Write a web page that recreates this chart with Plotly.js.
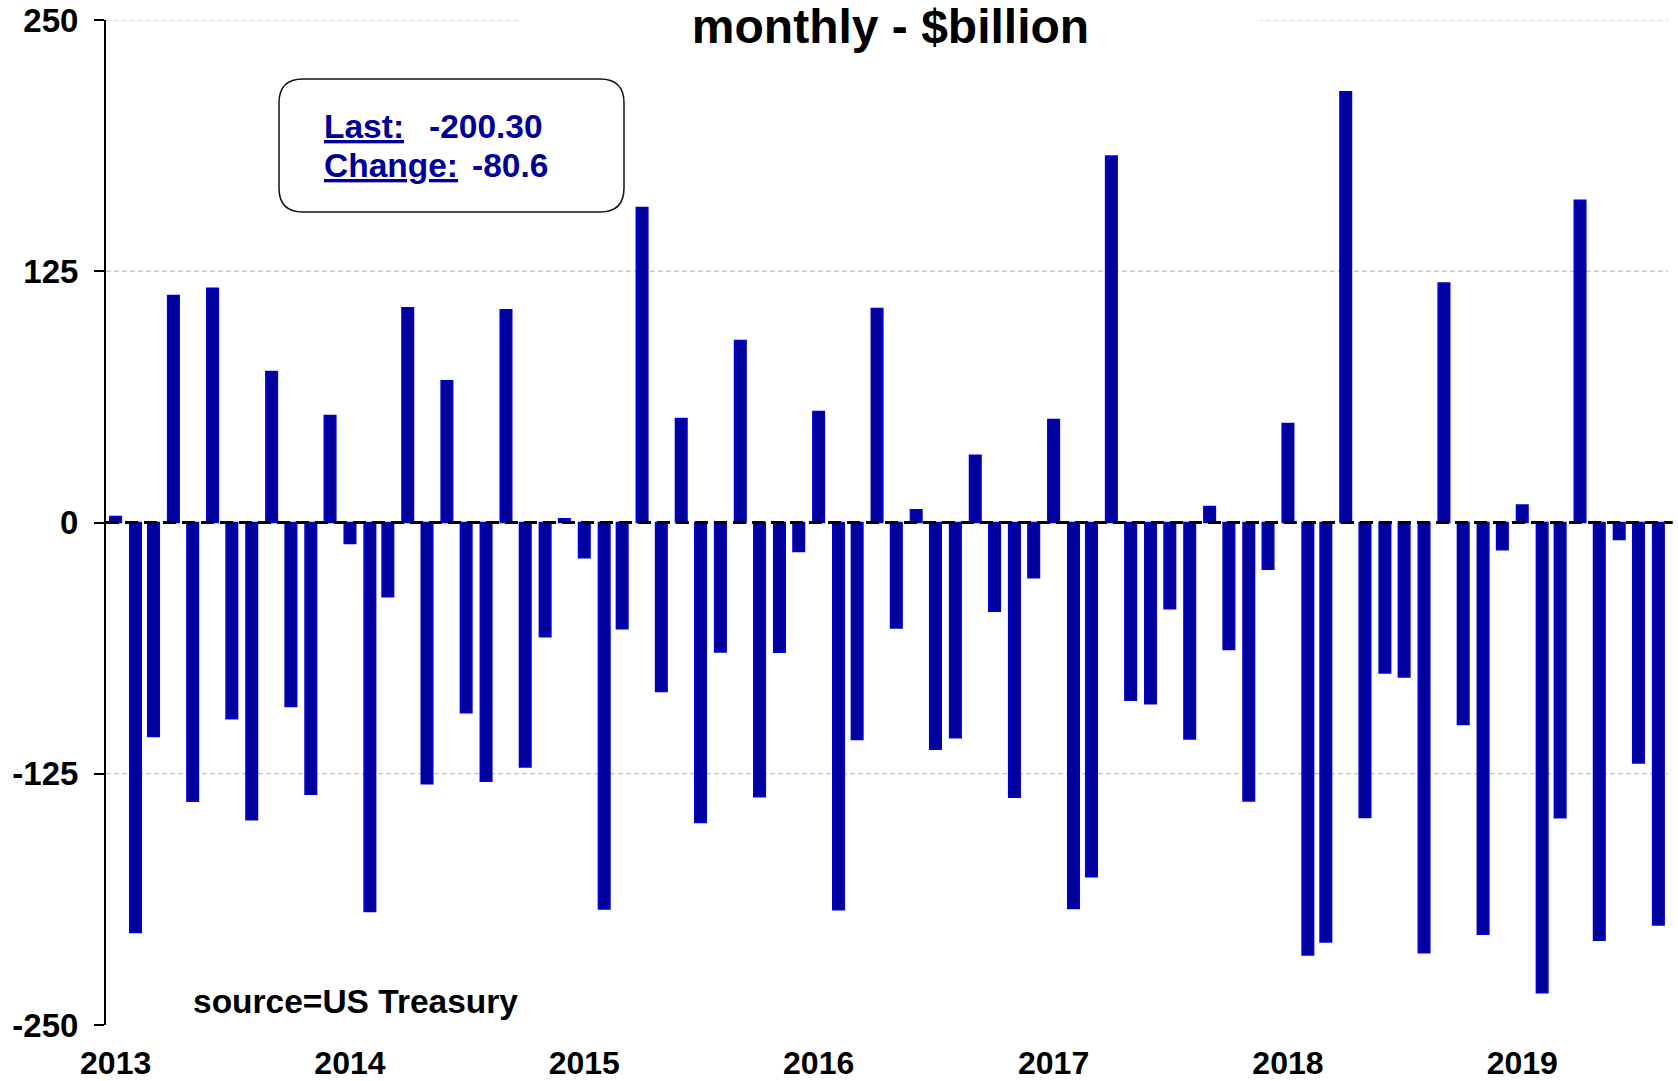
<!DOCTYPE html>
<html>
<head>
<meta charset="utf-8">
<script src="https://cdn.plot.ly/plotly-3.0.1.min.js"></script>
<style>
  html, body { margin: 0; padding: 0; background: #fff; }
  #chart { width: 1678px; height: 1081px; }
</style>
</head>
<body>
<div id="chart"></div>
<script>
// ---- data (US Treasury monthly budget balance, $billion) ----
const startYear = 2013;
const balance = [
  3.0, -204.0, -106.5, 112.9, -138.7, 116.5, -97.6, -147.9, 75.1, -91.6, -135.2, 53.2,
  -10.4, -193.5, -36.9, 106.9, -130.0, 70.5, -94.6, -128.7, 105.8, -121.7, -56.8, 1.9,
  -17.5, -192.3, -52.9, 156.7, -84.1, 51.8, -149.2, -64.4, 90.5, -136.5, -64.6, -14.4,
  55.2, -192.6, -108.0, 106.5, -52.5, 6.3, -112.8, -107.1, 33.4, -44.2, -136.7, -27.5,
  51.3, -192.0, -176.2, 182.4, -88.4, -90.2, -42.9, -107.7, 7.9, -63.2, -138.5, -23.2,
  49.2, -215.2, -208.7, 214.3, -146.8, -74.9, -76.9, -214.1, 119.1, -100.5, -204.9, -13.5,
  8.7, -234.0, -146.9, 160.3, -207.8, -8.5, -119.7, -200.3
];
const yearLabels = ['2013', '2014', '2015', '2016', '2017', '2018', '2019'];
const yTicks = [-250, -125, 0, 125, 250];
const gridVals = [250, 125, -125];
const lastValue = '-200.30';
const changeValue = '-80.6';

// month dates (mid-month) for each bar
const months = balance.map((_, i) => {
  const y = startYear + Math.floor(i / 12);
  const m = (i % 12) + 1;
  return y + '-' + String(m).padStart(2, '0') + '-16';
});
const yearTickVals = yearLabels.map(y => y + '-01-16');

// ---- layout geometry (pixels) ----
const W = 1678, H = 1081;
const M = { l: 106, r: 10, t: 20, b: 56 };
const PW = W - M.l - M.r, PH = H - M.t - M.b;
const px = x => (x - M.l) / PW;
const py = y => (H - M.b - y) / PH;

const FONT = 'Liberation Sans, Arial, sans-serif';
const NAVY = '#000099';

// rounded rectangle for the info box
function roundedRect(x0, y0, x1, y1, r) {
  const X0 = px(x0), X1 = px(x1), Y0 = py(y0), Y1 = py(y1);
  const rx = r / PW, ry = r / PH;
  return `M ${X0 + rx},${Y0} L ${X1 - rx},${Y0} Q ${X1},${Y0} ${X1},${Y0 - ry} ` +
         `L ${X1},${Y1 + ry} Q ${X1},${Y1} ${X1 - rx},${Y1} ` +
         `L ${X0 + rx},${Y1} Q ${X0},${Y1} ${X0},${Y1 + ry} ` +
         `L ${X0},${Y0 - ry} Q ${X0},${Y0} ${X0 + rx},${Y0} Z`;
}

const shapes = gridVals.map(v => ({
  type: 'line', xref: 'paper', yref: 'y', x0: 0, x1: 1, y0: v, y1: v,
  line: { color: '#b4b4b4', width: 1.2, dash: '5px,3px' }, layer: 'below'
}));
shapes.push({
  type: 'line', xref: 'paper', yref: 'y', x0: 0, x1: 1.003, y0: 0, y1: 0,
  line: { color: '#000', width: 3, dash: '13px,6px' }, layer: 'above'
});
shapes.push({
  type: 'path', xref: 'paper', yref: 'paper',
  path: roundedRect(279, 79, 624, 212, 24),
  line: { color: '#111', width: 1.5 }, fillcolor: 'rgba(0,0,0,0)', layer: 'above'
});

const trace = {
  type: 'bar',
  x: months,
  y: balance,
  width: 18 * 86400000,
  marker: { color: '#00009c', line: { color: '#0000d4', width: 1.5 } },
  hoverinfo: 'skip'
};

const boxFont = { family: FONT, size: 33.5, color: NAVY, weight: 'bold' };

const layout = {
  width: W, height: H,
  margin: M,
  paper_bgcolor: '#fff', plot_bgcolor: '#fff',
  showlegend: false,
  bargap: 0,
  xaxis: {
    type: 'date',
    range: ['2013-01-01', '2019-08-31'],
    tickvals: yearTickVals,
    ticktext: yearLabels,
    ticks: '',
    showgrid: false, zeroline: false, showline: false,
    tickfont: { family: FONT, size: 32, color: '#000', weight: 'bold' },
    ticklabelstandoff: 16
  },
  yaxis: {
    range: [-250, 250],
    tickvals: yTicks,
    ticktext: yTicks.map(String),
    ticks: 'outside', ticklen: 10, tickwidth: 2, tickcolor: '#000',
    showline: true, linecolor: '#000', linewidth: 2,
    showgrid: false, zeroline: false,
    tickfont: { family: FONT, size: 33, color: '#000', weight: 'bold' },
    ticklabelstandoff: 9
  },
  shapes: shapes,
  annotations: [
    {
      xref: 'paper', yref: 'paper', x: px(891), y: py(-3),
      xanchor: 'center', yanchor: 'top',
      text: '<b>monthly - $billion</b>', showarrow: false,
      font: { family: FONT, size: 48, color: '#000' },
      bgcolor: '#fff', width: 739, height: 56, align: 'center', valign: 'middle',
      borderpad: 0
    },
    {
      xref: 'paper', yref: 'paper', x: px(191), y: py(1001),
      xanchor: 'left', yanchor: 'middle', showarrow: false,
      text: '<b>source=US Treasury</b>',
      font: { family: FONT, size: 33.5, color: '#000' }
    },
    {
      xref: 'paper', yref: 'paper', x: px(322), y: py(126),
      xanchor: 'left', yanchor: 'middle', showarrow: false,
      text: '<b><u>Last:</u></b>', font: boxFont
    },
    {
      xref: 'paper', yref: 'paper', x: px(427), y: py(126),
      xanchor: 'left', yanchor: 'middle', showarrow: false,
      text: '<b>' + lastValue + '</b>', font: boxFont
    },
    {
      xref: 'paper', yref: 'paper', x: px(322), y: py(165),
      xanchor: 'left', yanchor: 'middle', showarrow: false,
      text: '<b><u>Change:</u></b>', font: boxFont
    },
    {
      xref: 'paper', yref: 'paper', x: px(470), y: py(165),
      xanchor: 'left', yanchor: 'middle', showarrow: false,
      text: '<b>' + changeValue + '</b>', font: boxFont
    }
  ]
};

Plotly.newPlot('chart', [trace], layout, { staticPlot: true, displayModeBar: false });
</script>
</body>
</html>
